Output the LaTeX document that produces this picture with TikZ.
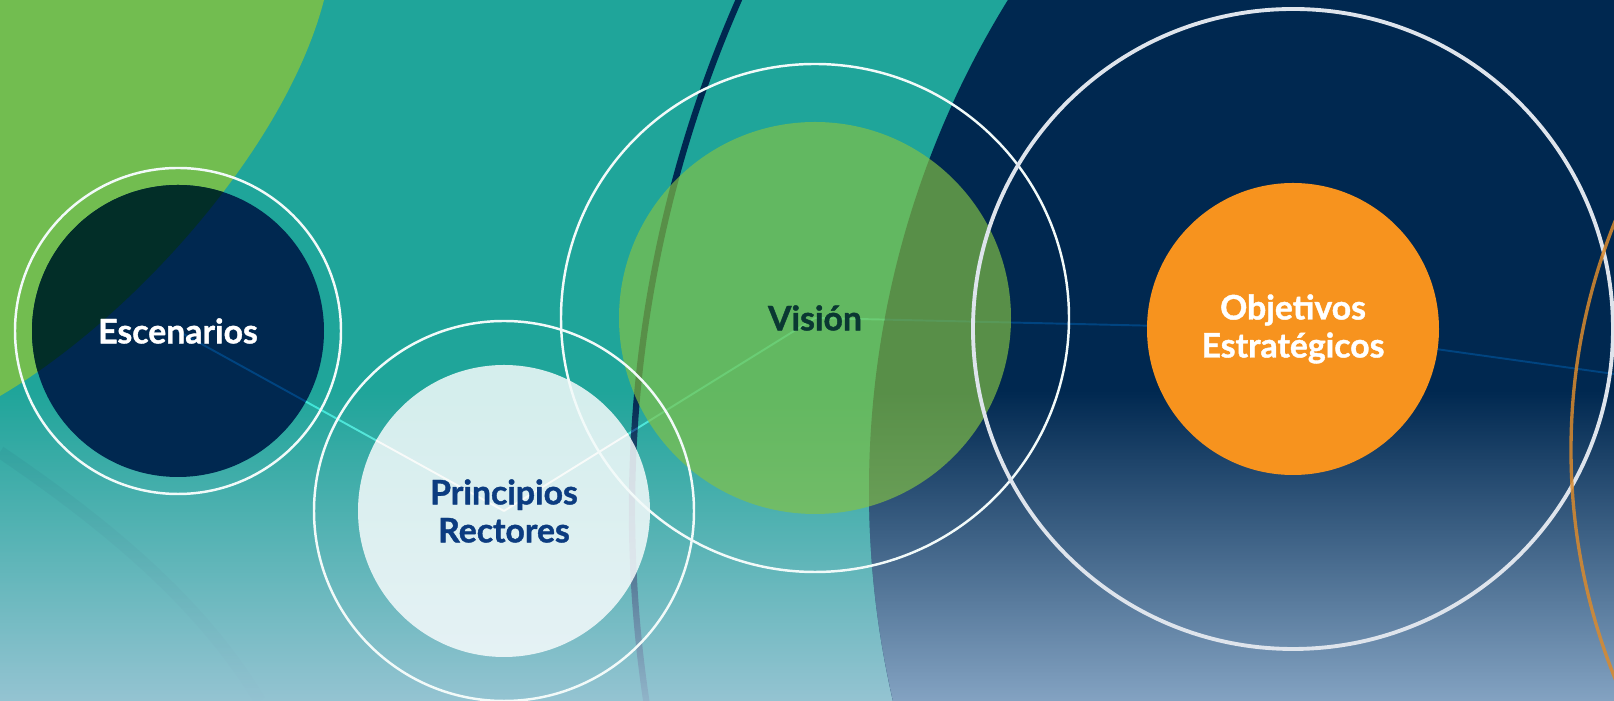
\documentclass[tikz,border=0pt]{standalone}
\usepackage{fontspec}
\setmainfont{Lato}[BoldFeatures={FakeBold=1.2}]
\usepackage{tikz}
\usetikzlibrary{fadings}
\definecolor{seateal}{RGB}{31,165,154}
\definecolor{leaf}{RGB}{114,189,80}
\definecolor{deepnavy}{RGB}{0,40,80}
\definecolor{shadenavy}{RGB}{2,46,40}
\definecolor{mist}{RGB}{165,200,218}
\definecolor{steel}{RGB}{150,180,210}
\definecolor{visgreen}{RGB}{132,194,69}
\definecolor{paper}{RGB}{248,252,253}
\definecolor{inkblue}{RGB}{12,60,128}
\definecolor{inkgreen}{RGB}{10,56,50}
\definecolor{amber}{RGB}{247,147,30}
\definecolor{copper}{RGB}{218,138,45}
\definecolor{frost}{RGB}{222,228,236}
\definecolor{glow}{RGB}{230,217,204}

\tikzfading[name=fadeup, top color=transparent!100, bottom color=transparent!12]

\pgfdeclarelayer{scene}
\pgfdeclarelayer{disc}
\pgfdeclarelayer{link}
\pgfdeclarelayer{glass}
\pgfdeclarelayer{top}
\pgfsetlayers{scene,disc,link,glass,top,main}

\begin{document}
\begin{tikzpicture}[x=0.01cm, y=-0.01cm,
  word/.style={font=\fontsize{9.6}{10.8}\selectfont\bfseries, align=center, circle, minimum size=2.92cm, inner sep=0pt},
  ring/.style={draw=white!94!seateal, line width=0.7pt},
  link/.style={draw=glow, line width=0.55pt, blend mode=overlay}]

  \useasboundingbox (0,0) rectangle (1614,701);

  % Circles
  \node[word, text=white] (esc) at (178,331) {Escenarios};
  \node[word, text=inkblue] (pri) at (504,511) {Principios\\Rectores};
  \node[word, text=inkgreen, minimum size=3.92cm] (vis) at (815,318) {Visión};
  \node[word, text=white] (obj) at (1293,329) {Objetivos\\Estratégicos};
  \coordinate (edge) at (1614,374);

  % Background
  \begin{pgfonlayer}{scene}
    \clip (0,0) rectangle (1614,701);
    \fill[seateal] (0,0) rectangle (1614,701);
    \fill[leaf] (0,0) -- (324,0) .. controls (285,150) and (130,320) .. (0,396) -- cycle;
    \draw[deepnavy, line width=1.8pt] (1900,510) circle [radius=1268];
    \draw[deepnavy, draw opacity=0.07, line width=3.5pt] (0,452) .. controls (100,520) and (200,600) .. (260,701);
    \fill[mist, path fading=fadeup] (0,390) rectangle (1614,701);
    \fill[deepnavy] (1802,490) circle [radius=933];
    \begin{scope}
      \clip (1802,490) circle [radius=933];
      \fill[steel, path fading=fadeup] (0,390) rectangle (1614,701);
    \end{scope}
  \end{pgfonlayer}

  % Discs
  \begin{pgfonlayer}{disc}
    \fill[deepnavy] (esc.center) circle [radius=146];
    \begin{scope}
      \clip (0,0) -- (324,0) .. controls (285,150) and (130,320) .. (0,396) -- cycle;
      \fill[shadenavy] (esc.center) circle [radius=146];
    \end{scope}
    \fill[paper, fill opacity=0.84] (pri.center) circle [radius=146];
  \end{pgfonlayer}

  % Links
  \begin{pgfonlayer}{link}
    \draw[link] (esc.center) -- (pri.center);
    \draw[link] (pri.center) -- (vis.center);
    \draw[link] (vis.center) -- (obj.center);
    \draw[link] (obj.center) -- (edge);
  \end{pgfonlayer}

  % Rings
  \begin{pgfonlayer}{glass}
    \fill[visgreen, fill opacity=0.67] (vis.center) circle [radius=196];
    \draw[ring] (esc.center) circle [radius=163];
    \draw[ring] (pri.center) circle [radius=190];
    \draw[ring] (vis.center) circle [radius=254];
  \end{pgfonlayer}

  \begin{pgfonlayer}{top}
    \fill[amber] (obj.center) circle [radius=146];
    \draw[frost, line width=1.1pt] (obj.center) circle [radius=320];
    \draw[copper, draw opacity=0.85, line width=0.95pt] (2184,450) circle [radius=613];
  \end{pgfonlayer}
\end{tikzpicture}
\end{document}
